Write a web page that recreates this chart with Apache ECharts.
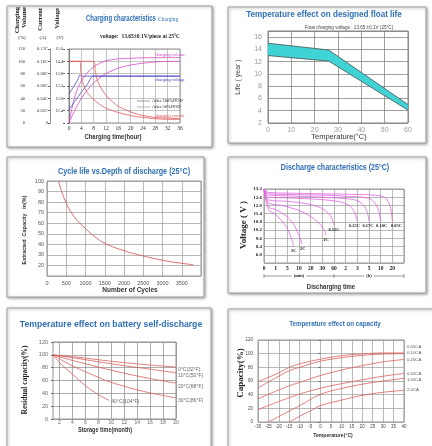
<!DOCTYPE html>
<html><head><meta charset="utf-8">
<script src="https://cdn.jsdelivr.net/npm/echarts@6/dist/echarts.min.js"></script>
<style>html,body{margin:0;padding:0;background:#fff}#c{width:432px;height:446px}</style>
</head><body><div id="c"></div><script>
// ---------- Chart 1: charging characteristics ----------
const chgVolumeTicks = ['0','20','40','60','80','100','120'];
const chgCurrentTicks = ['0','0.02C','0.04C','0.06C','0.08C','0.10C','0.12C'];
const chgVoltageTicks = ['','12.4','13.6','13.2','13.8','14.4','15.6'];
const volume50 = [[0,0],[1,25],[2,45],[3,58],[4,68],[6,82],[8,91],[10,97],[12,101],[16,104],[20,105],[28,106],[36,106]];
const volume100 = [[0,0],[2,22],[4,40],[6,54],[8,65],[10,73],[12,80],[16,89],[20,94],[24,97],[28,99],[32,100],[36,100]];
const voltage50 = [[0,47],[1,55],[2,63],[3,72],[3.5,78],[4,76],[8,76],[36,76]];
const voltage100 = [[0,22],[2,36],[4,50],[6,63],[7.7,76],[36,76]];
const current50 = [[0,100],[3.5,100],[3.8,85],[4.2,70],[5,58],[6,49],[8,38],[10,30],[12,24],[16,17],[20,12],[24,9],[28,7],[32,6],[36,6]];
const current100 = [[0,100],[8,100],[8.5,85],[9,73],[10,60],[12,45],[14,35],[16,27],[20,18],[24,12],[28,9],[32,8],[36,7]];
// ---------- Chart 2: float life ----------
const floatTemp = [0, 26, 60];
const floatLow = [13.0, 12.1, 4.1];
const floatHigh = [15.0, 13.9, 5.0];
// ---------- Chart 3: cycle life ----------
const cycleCount = [300,400,500,600,750,1000,1250,1500,2000,2500,3000,3500,3800];
const cycleDepth = [100,88,79,72,64,55,47,41,34,29,25,22,20.8];
// ---------- Chart 4: discharge ----------
const dischargeTimeTicks = ['0','1','5','10','20','30','60','2','3','5','10','20',''];
const dischargeVoltTicks = ['','6.0','8.4','9.6','10.2','10.8','11.4','12.0','12.6','13.2'];
const dischargeRates = ['0.05C','0.10C','0.17C','0.25C','0.55C','1C','2C','3C'];
const dis005 = [[0,13.2],[0.4,12.95],[2,12.9],[5,12.85],[8,12.8],[9.5,12.75],[10.3,12.6],[10.7,12.2],[10.9,11.6],[11,10.85]];
const dis010 = [[0,13.2],[0.4,12.85],[2,12.8],[5,12.75],[7.5,12.65],[8.8,12.55],[9.4,12.3],[9.8,11.7],[10,10.85]];
const dis017 = [[0,13.2],[0.4,12.75],[2,12.7],[5,12.6],[7,12.5],[8,12.35],[8.5,12.05],[8.85,11.5],[9,10.85]];
const dis025 = [[0,13.2],[0.4,12.6],[2,12.55],[4.5,12.45],[6.3,12.3],[7.2,12.05],[7.7,11.6],[8,10.85]];
const dis055 = [[0,13.2],[0.4,12.4],[2,12.3],[3.5,12.15],[4.5,11.95],[5.3,11.6],[5.8,11.1],[6,10.54]];
const dis1 = [[0,13.2],[0.4,12.2],[1.5,12.0],[2.8,11.7],[3.8,11.3],[4.6,10.8],[5.1,10.3],[5.32,9.82]];
const dis2 = [[0,13.2],[0.4,11.9],[1,11.7],[1.8,11.3],[2.5,10.7],[2.9,10.0],[3.1,9.6],[3.23,9.18]];
const dis3 = [[0,13.2],[0.4,11.7],[0.9,11.4],[1.5,10.9],[2.0,10.3],[2.35,9.6],[2.55,9.0]];
// ---------- Chart 5: self-discharge ----------
const sdMonthTicks = [2,4,6,8,10,12,14,16,18,20];
const sdNames = ['0°C(32°F)','10°C(50°F)','20°C(68°F)','30°C(86°F)','40°C(104°F)'];
const sd0 = [[1,100],[5,96],[10,90],[15,85],[20,81]];
const sd10 = [[1,100],[5,94],[10,86],[15,79],[20,72]];
const sd20 = [[1,100],[3,94],[5,88.7],[10,76],[15,65],[20,56]];
const sd30 = [[1,100],[3,88],[5,78],[8,65],[10,57],[15,43],[20,33]];
const sd40 = [[1,100],[2,88],[4,70],[6,52],[8,38],[9.7,29]];
// ---------- Chart 6: capacity vs temperature ----------
const capNames = ['0.05CA','0.10CA','0.20CA','0.55CA','1.00CA','2.0CA'];
const cap005 = [[-30,59],[-20,72],[-15,80],[-10,85],[0,92],[10,97],[20,99.7],[30,101],[40,101]];
const cap010 = [[-30,50],[-20,67],[-15,75],[-10,80],[0,89],[10,94],[20,97.5],[30,99.5],[40,100]];
const cap020 = [[-30,34],[-20,47],[-15,53],[-10,58],[0,68],[10,76],[20,82.5],[30,88],[40,91.5]];
const cap055 = [[-30,18],[-20,30],[-15,35.5],[-10,41],[0,49.5],[10,56],[20,61.7],[30,67],[40,71]];
const cap100 = [[-25,0],[-20,8],[-15,16],[-10,24],[0,40.5],[10,49],[20,55.3],[30,60],[40,64]];
const cap200 = [[-15,0],[-10,8.4],[-5,16],[0,24],[10,32],[20,39],[30,43.5],[40,46.4]];

const serif = 'Liberation Serif, DejaVu Serif, serif';
const sans = 'Liberation Sans, Arial, sans-serif';
const narrow = 'Liberation Sans Narrow, Liberation Sans, sans-serif';
const blue = '#2f6fb4';
const chart = echarts.init(document.getElementById('c'), null, {renderer:'canvas'});

function sl(c){ return {show:true, lineStyle:{color:c, width:0.7}}; }
function ax(extra){
  return Object.assign({type:'value', axisLine:{show:false}, axisTick:{show:false}}, extra);
}
function ln(name, data, xi, yi, color, extra){
  return Object.assign({type:'line', name, data, xAxisIndex:xi, yAxisIndex:yi, symbol:'none', smooth:0.3,
    lineStyle:{color, width:0.8}, itemStyle:{color}, silent:true, animation:false}, extra||{});
}
const magenta = '#d64bc9', vblue = '#4a46c4', cred = '#e25555';
const grids = [
  {left:69, top:49, width:111, height:74},
  {left:268, top:31, width:140, height:92},
  {left:47, top:181, width:154, height:95},
  {left:264, top:189, width:140, height:74},
  {left:53, top:342, width:123, height:77},
  {left:258, top:340, width:146, height:82}
].map((g,i)=>Object.assign(g,{show:true, borderColor: i===1?'#666':'#777', borderWidth:0.8, backgroundColor:'rgba(0,0,0,0)'}));

const xAxis = [
  ax({gridIndex:0, min:0, max:36, interval:4, splitLine:sl('#aaa'), axisLabel:{fontFamily:serif, fontSize:5.5, color:'#333', margin:3}}),
  ax({gridIndex:1, min:0, max:60, interval:10, splitLine:sl('#777'), axisLabel:{fontFamily:sans, fontSize:7, color:'#999', margin:4}}),
  ax({gridIndex:2, min:0, max:4000, interval:500, splitLine:sl('#999'), axisLabel:{showMaxLabel:false, formatter:v=>String(v), fontFamily:sans, fontSize:5.5, color:'#555', margin:4}}),
  ax({gridIndex:3, min:0, max:12, interval:1, splitLine:sl('#999'), axisLabel:{formatter:v=>dischargeTimeTicks[Math.round(v)], fontFamily:serif, fontWeight:'bold', fontSize:5.5, color:'#222', margin:3}}),
  ax({gridIndex:4, min:1, max:20, splitLine:sl('#888'), axisTick:{show:false, customValues:sdMonthTicks}, axisLabel:{customValues:sdMonthTicks, fontFamily:narrow, fontSize:5, color:'#666', margin:1.5}}),
  ax({gridIndex:5, min:-30, max:40, interval:5, splitLine:sl('#999'), axisLabel:{fontFamily:narrow, fontSize:4.5, color:'#444', margin:2}})
];
const yAxis = [
  ax({gridIndex:0, position:'left', min:0, max:120, interval:20, offset:42, axisLine:{show:true, lineStyle:{color:'#666', width:0.7}}, axisTick:{show:true, length:2, lineStyle:{color:'#666'}}, splitLine:sl('#aaa'), axisLabel:{formatter:v=>chgVolumeTicks[Math.round(v/20)], fontFamily:serif, fontSize:4.5, color:'#333', margin:2}}),
  ax({gridIndex:0, position:'left', min:0, max:120, interval:20, offset:19, axisLine:{show:true, lineStyle:{color:'#666', width:0.7}}, axisTick:{show:true, length:2, lineStyle:{color:'#666'}}, splitLine:{show:false}, axisLabel:{formatter:v=>chgCurrentTicks[Math.round(v/20)], fontFamily:serif, fontSize:4.5, color:'#333', margin:2}}),
  ax({gridIndex:0, position:'left', min:0, max:120, interval:20, offset:4, axisTick:{show:true, length:2, lineStyle:{color:'#666'}}, splitLine:{show:false}, axisLabel:{formatter:v=>chgVoltageTicks[Math.round(v/20)], fontFamily:serif, fontSize:4.5, color:'#333', margin:2}}),
  ax({gridIndex:1, min:2, max:17, interval:2, splitLine:sl('#777'), axisLabel:{showMaxLabel:false, fontFamily:sans, fontSize:7, color:'#999', margin:6}}),
  ax({gridIndex:2, min:10, max:100, interval:10, splitLine:sl('#999'), axisLabel:{showMinLabel:false, fontFamily:sans, fontSize:5.5, color:'#555', margin:3}}),
  ax({gridIndex:3, min:7.8, max:13.2, interval:0.6, splitLine:sl('#999'), axisLabel:{formatter:v=>dischargeVoltTicks[Math.round((v-7.8)/0.6)], fontFamily:serif, fontWeight:'bold', fontSize:5, color:'#222', margin:2}}),
  ax({gridIndex:4, min:0, max:120, interval:20, axisTick:{show:true, length:2, lineStyle:{color:'#666'}}, splitLine:sl('#888'), axisLabel:{fontFamily:narrow, fontSize:5.5, color:'#666', margin:5}}),
  ax({gridIndex:5, min:0, max:120, interval:20, axisTick:{show:true, length:2, lineStyle:{color:'#666'}}, splitLine:sl('#999'), axisLabel:{fontFamily:narrow, fontSize:4.5, color:'#444', margin:5}})
];

const series = [];
// chart 1
series.push(ln('volume100', volume100, 0, 0, magenta));
series.push(ln('volume50', volume50, 0, 0, magenta));
series.push(ln('voltage100', voltage100, 0, 0, vblue, {smooth:0.15}));
series.push(ln('voltage50', voltage50, 0, 0, vblue, {smooth:0.15}));
series.push(ln('current100', current100, 0, 0, cred, {smooth:0.25}));
series.push(ln('current50', current50, 0, 0, cred, {smooth:0.25}));
// chart 2 band: fill between low and high through the axes' scales
series.push({type:'custom', coordinateSystem:'cartesian2d', xAxisIndex:1, yAxisIndex:3, silent:true, animation:false, z:1,
  data: floatTemp.slice(0, -1).map((t,i)=>[t, floatLow[i], floatHigh[i]]),
  renderItem:(params, api)=>{
    const i = params.dataIndex;
    const pts = [api.coord([floatTemp[i], floatHigh[i]]), api.coord([floatTemp[i+1], floatHigh[i+1]]),
                 api.coord([floatTemp[i+1], floatLow[i+1]]), api.coord([floatTemp[i], floatLow[i]])];
    return {type:'polygon', shape:{points:pts}, style:{fill:'#3fd3d6', stroke:'#3fd3d6', lineWidth:0.5}};
  }});
series.push(ln('low', floatTemp.map((t,i)=>[t, floatLow[i]]), 1, 3, '#555', {smooth:false}));
series.push(ln('high', floatTemp.map((t,i)=>[t, floatHigh[i]]), 1, 3, '#555', {smooth:false}));
// chart 3
series.push(ln('cycle', cycleCount.map((c,i)=>[c, cycleDepth[i]]), 2, 4, '#d24a4a', {smooth:0.5}));
// chart 4
const disOffsets = [[4,2],[1,2],[-1,2],[-3,2],[0,2],[0,2],[1,2],[0,2]];
[dis005, dis010, dis017, dis025, dis055, dis1, dis2, dis3].forEach((d,i)=>{
  series.push(ln(dischargeRates[i], d, 3, 5, '#e265e2', {smooth:0.35, endLabel:{show:true, formatter:p=>p.seriesName, distance:0, align:'center', verticalAlign:'top', offset:disOffsets[i], fontFamily:serif, fontWeight:'bold', fontSize:4.5, color:'#222'}}));
});
// chart 5
const sdOffsets = [[0,3],[0,3],[0,4],[0,3],[0,1]];
[sd0, sd10, sd20, sd30, sd40].forEach((d,i)=>{
  series.push(ln(sdNames[i], d, 4, 6, '#d9605c', {smooth:0.4, endLabel:{show:true, formatter:p=>p.seriesName, distance:2, offset:sdOffsets[i], fontFamily:narrow, fontSize:5, color:'#666'}}));
});
// chart 6
const capOffsets = [[0,-6],[0,-1],[0,0],[0,0],[0,2],[0,0]];
[cap005, cap010, cap020, cap055, cap100, cap200].forEach((d,i)=>{
  series.push(ln(capNames[i], d, 5, 7, '#d9605c', {smooth:0.4, endLabel:{show:true, formatter:p=>p.seriesName, distance:3, offset:capOffsets[i], fontFamily:narrow, fontSize:4.3, color:'#555'}}));
});

chart.setOption({animation:false, grid:grids, xAxis, yAxis, series});

function panel(x,y,w,h){ return {type:'rect', z:-100, silent:true, shape:{x,y,width:w,height:h}, style:{fill:'#fff', stroke:'#a0a0a0', lineWidth:1, shadowBlur:3, shadowColor:'rgba(0,0,0,0.35)', shadowOffsetX:1, shadowOffsetY:1}}; }
function txt(x,y,text,o,sx){ return {type:'text', x, y, z:10, scaleX:sx||1, silent:true, style:Object.assign({text, fill:'#222', fontFamily:sans, fontSize:6, align:'center', verticalAlign:'middle'}, o||{})}; }
function rtxt(x,y,text,o){ const t = txt(x,y,text,o); t.rotation = Math.PI/2; return t; }
function seg(x1,y1,x2,y2,c,w){ return {type:'line', z:10, silent:true, shape:{x1,y1,x2,y2}, style:{stroke:c||'#444', lineWidth:w||0.7}}; }

const els = [
  panel(7,6,205,141), panel(228,7,198,136), panel(7,157,197,140),
  panel(228,157,198,136), panel(7,308,204,150), panel(228,309,210,150),
  // chart 1
  txt(86,19,'Charging characteristics',{align:'left', fill:blue, fontFamily:sans, fontWeight:'bold', fontSize:8.5}, 0.7),
  txt(158,20,'Charging',{align:'left', fill:blue, fontFamily:serif, fontSize:5.5}),
  txt(100,37,'voltage:  13.65±0.1V/piece at 25°C',{align:'left', fontFamily:serif, fontWeight:'bold', fontSize:5.5}),
  rtxt(21,7,'Charging\nVolume',{align:'right', fontFamily:serif, fontWeight:'bold', fontSize:6.5, lineHeight:7.5}),
  rtxt(40,8,'Current',{align:'right', fontFamily:serif, fontWeight:'bold', fontSize:6.5}),
  rtxt(57,8,'Voltage',{align:'right', fontFamily:serif, fontWeight:'bold', fontSize:6.5}),
  txt(22,38,'(%)',{fontFamily:serif, fontSize:5}),
  txt(43,38,'(A)',{fontFamily:serif, fontSize:5}),
  txt(60,38,'(V)',{fontFamily:serif, fontSize:5}),
  txt(155,55,'charging volume',{align:'left', fill:magenta, fontFamily:serif, fontSize:4.5}),
  txt(155,80,'charging voltage',{align:'left', fill:vblue, fontFamily:serif, fontSize:4.5}),
  txt(155,116,'charging current',{align:'left', fill:cred, fontFamily:serif, fontSize:4.5}),
  seg(137,101,150,101,'#777',0.7), seg(137,107,150,107,'#999',0.7),
  txt(152,101,'After 100%DOD',{align:'left', fontFamily:serif, fontSize:4.5}),
  txt(152,107,'After 50%DOD',{align:'left', fontFamily:serif, fontSize:4.5}),
  txt(113,137,'Charging time(hour)',{fontFamily:sans, fontWeight:'bold', fontSize:7, fill:'#333'}, 0.85),
  // chart 2
  txt(324,15,'Temperature effect on designed float life',{fill:blue, fontFamily:sans, fontWeight:'bold', fontSize:9}, 0.9),
  txt(349,27.5,'Float charging voltage : 13.65 ±0.1V (25°C)',{fontFamily:sans, fontSize:4.6, fill:'#444'}),
  rtxt(238,77,'Life ( year )',{fontFamily:sans, fontSize:7, fill:'#444'}),
  txt(339,137,'Temperature(°C)',{fontFamily:sans, fontSize:7.5, fill:'#333'}),
  // chart 3
  txt(124,172,'Cycle life vs.Depth of discharge (25°C)',{fill:blue, fontFamily:sans, fontWeight:'bold', fontSize:8.5}, 0.85),
  rtxt(24,230,'Extracted  Capacity   in(%)',{fontFamily:sans, fontWeight:'bold', fontSize:5.5, fill:'#333'}),
  txt(130,290,'Number of Cycles',{fontFamily:sans, fontWeight:'bold', fontSize:6.5, fill:'#333'}),
  // chart 4
  txt(335,168,'Discharge characteristics (25°C)',{fill:blue, fontFamily:sans, fontWeight:'bold', fontSize:8.5}, 0.83),
  rtxt(244,225,'Voltage ( V )',{fontFamily:serif, fontWeight:'bold', fontSize:9, fill:'#222'}),
  txt(331,287,'Discharging time',{fontFamily:sans, fontWeight:'bold', fontSize:7, fill:'#333'}, 0.85),
  // chart 5
  txt(111,324,'Temperature effect on battery self-discharge',{fill:blue, fontFamily:sans, fontWeight:'bold', fontSize:9.5}, 0.91),
  rtxt(25,380,'Residual capacity(%)',{fontFamily:serif, fontWeight:'bold', fontSize:7.5, fill:'#222'}),
  txt(105,430,'Storage time(month)',{fontFamily:sans, fontWeight:'bold', fontSize:6.5, fill:'#333'}, 0.85),
  // chart 6
  txt(335,324,'Temperature effect on capacity',{fill:blue, fontFamily:sans, fontWeight:'bold', fontSize:7.5}, 0.83),
  rtxt(241,373,'Capacity(%)',{fontFamily:serif, fontWeight:'bold', fontSize:9, fill:'#222'}),
  txt(333,435,'Temperature(°C)',{fontFamily:sans, fontWeight:'bold', fontSize:6, fill:'#333'}, 0.85)
];
// bracket under discharge time axis
const bx0 = chart.convertToPixel({xAxisIndex:3}, 0);
const bx6 = chart.convertToPixel({xAxisIndex:3}, 6);
const bx12 = chart.convertToPixel({xAxisIndex:3}, 12);
const by = 276;
els.push(seg(bx0,by,bx12,by,'#555',0.6), seg(bx0,by-2,bx0,by+2,'#555',0.6), seg(bx6,by-2,bx6,by+2,'#555',0.6), seg(bx12,by-2,bx12,by+2,'#555',0.6));
els.push(txt((bx0+bx6)/2,by,'(min)',{fontFamily:serif, fontWeight:'bold', fontSize:4.5, backgroundColor:'#fff', padding:[0,2]}));
els.push(txt((bx6+bx12)/2,by,'(h)',{fontFamily:serif, fontWeight:'bold', fontSize:4.5, backgroundColor:'#fff', padding:[0,2]}));
chart.setOption({graphic:{elements:els}});
</script></body></html>
